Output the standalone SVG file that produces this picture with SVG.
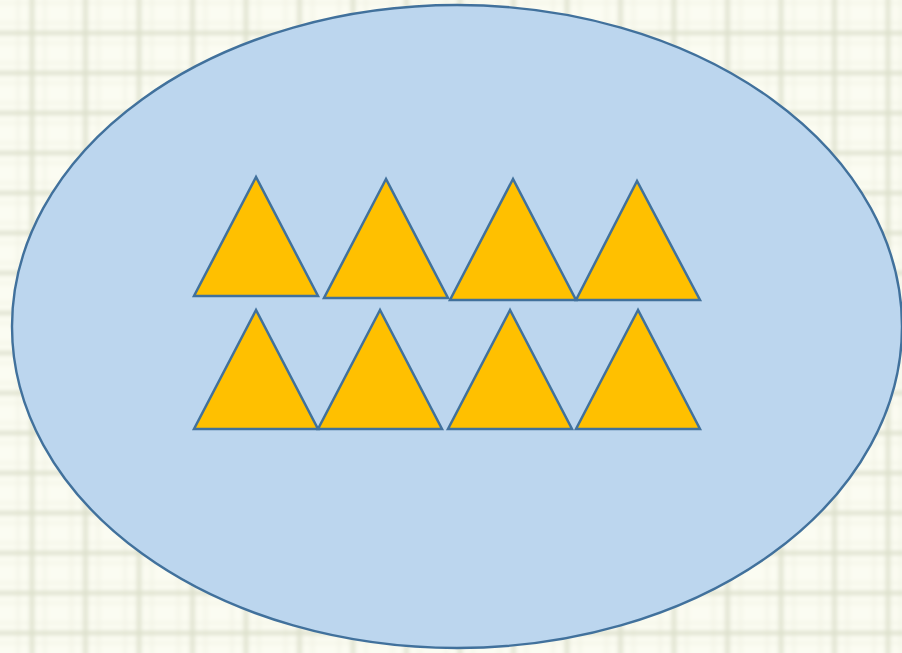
<svg xmlns="http://www.w3.org/2000/svg" width="902" height="653" viewBox="0 0 902 653">
  <defs>
    <pattern id="grid" x="5" y="13" width="53.5" height="40" patternUnits="userSpaceOnUse">
      <rect width="53.5" height="40" fill="#fbfcf2"/>
      <line x1="0" y1="10" x2="53.5" y2="10" stroke="#f1f2e3" stroke-width="2"/>
      <line x1="0" y1="30" x2="53.5" y2="30" stroke="#f1f2e3" stroke-width="2"/>
      <line x1="13" y1="0" x2="13" y2="40" stroke="#f1f2e3" stroke-width="2"/>
      <line x1="40" y1="0" x2="40" y2="40" stroke="#f1f2e3" stroke-width="2"/>
      <line x1="0" y1="20" x2="53.5" y2="20" stroke="#dcdfcb" stroke-width="4"/>
      <line x1="27" y1="0" x2="27" y2="40" stroke="#dcdfcb" stroke-width="4"/>
    </pattern>
    <filter id="blur" x="0" y="0" width="1" height="1" filterUnits="objectBoundingBox">
      <feGaussianBlur stdDeviation="2.2"/>
    </filter>
  </defs>
  <style>
    .tri { fill: #ffc000; stroke: #41719c; stroke-width: 2.5; stroke-linejoin: miter; }
    .oval { fill: #bcd6ee; stroke: #41719c; stroke-width: 2.4; }
  </style>
  <g filter="url(#blur)">
    <rect id="background" x="-10" y="-10" width="922" height="673" fill="url(#grid)"/>
  </g>
  <g id="set">
    <ellipse class="oval" cx="457" cy="326.5" rx="445" ry="321.5"/>
  </g>
  <g id="triangles">
    <g id="t1"><polygon class="tri" points="256,177 194,296 318,296"/></g>
    <g id="t2"><polygon class="tri" points="386,179 324,298 448,298"/></g>
    <g id="t3"><polygon class="tri" points="513,179 450,300 576,300"/></g>
    <g id="t4"><polygon class="tri" points="637,181 576,300 700,300"/></g>
    <g id="t5"><polygon class="tri" points="256,310 194,429 318,429"/></g>
    <g id="t6"><polygon class="tri" points="380,310 318,429 442,429"/></g>
    <g id="t7"><polygon class="tri" points="510,310 448,429 572,429"/></g>
    <g id="t8"><polygon class="tri" points="638,310 576,429 700,429"/></g>
  </g>
  <g id="connectors"/>
</svg>
